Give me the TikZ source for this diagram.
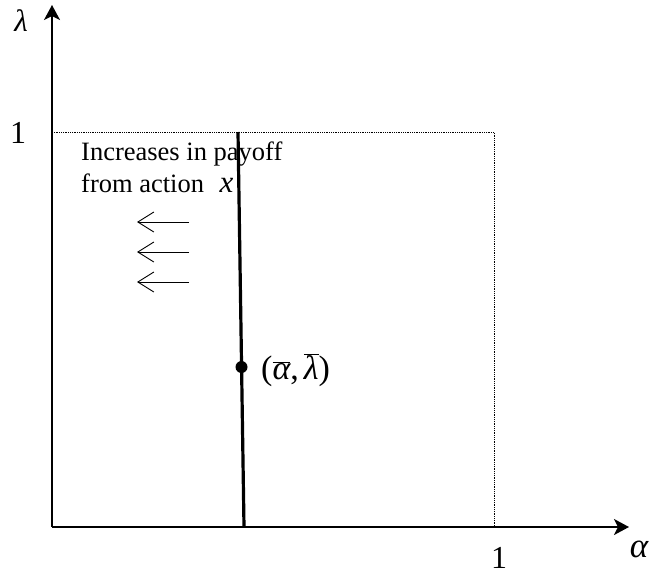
\documentclass[tikz,border=0pt]{standalone}
\usepackage{fontspec}
\setmainfont{Liberation Serif}
\usetikzlibrary{arrows.meta}
\tikzset{
  axis/.style={line width=1.8pt,-{Stealth[length=15pt,width=16pt,inset=4pt]}},
  guide/.style={line width=0.8pt,densely dotted},
  curve/.style={line width=3.2pt},
  pusharrow/.style={line width=0.9pt,-{Straight Barb[length=16pt,width=20pt,line width=0.9pt]}},
  biglabel/.style={inner sep=0pt,font=\fontsize{32}{34}\selectfont},
  greeklabel/.style={inner sep=0pt,font=\fontsize{35}{38}\selectfont\itshape},
  txt/.style={inner sep=0pt,align=left,font=\fontsize{26.5}{32}\selectfont}
}
\begin{document}
\begin{tikzpicture}[x=1pt,y=-1pt]
\useasboundingbox (0,0) rectangle (650,574);
\coordinate (O) at (52,527);
\coordinate (ytop) at (52,5);
\coordinate (xend) at (629,527);
\coordinate (c11) at (494,132);
\coordinate (c01) at (52,132);
\coordinate (c10) at (494,527);
\coordinate (ltop) at (238,132);
\coordinate (lbot) at (244,527);
\draw[guide] (c01) -- (c11) -- (c10);
\draw[axis] (O) -- (ytop);
\draw[axis] (O) -- (xend);
\draw[curve] (ltop) -- (lbot);
\node[circle,fill=black,inner sep=0pt,minimum size=12pt] (pt) at (241.5,367) {};
\node[inner sep=0pt,anchor=west,font=\fontsize{34}{36}\selectfont] (ptlab) at (261,370) {(\hbox{$\overline{\hbox{\itshape α}}$},\hspace{5pt}\hbox{$\overline{\hbox{\itshape λ}}$})};
\node[greeklabel,font=\fontsize{31}{34}\selectfont\itshape] (lam) at (21,21) {λ};
\node[greeklabel] (alp) at (639,549) {α};
\node[biglabel] (oney) at (18,133) {1};
\node[biglabel] (onex) at (499,558) {1};
\node[txt,anchor=north west] (desc) at (81,142) {Increases in payoff\\from action \hspace{9pt}{\fontsize{31}{32}\selectfont\itshape x}};
\coordinate (a1s) at (189,222); \coordinate (a1e) at (137,222);
\coordinate (a2s) at (189,252); \coordinate (a2e) at (137,252);
\coordinate (a3s) at (189,282); \coordinate (a3e) at (137,282);
\draw[pusharrow] (a1s) -- (a1e);
\draw[pusharrow] (a2s) -- (a2e);
\draw[pusharrow] (a3s) -- (a3e);
\end{tikzpicture}
\end{document}
